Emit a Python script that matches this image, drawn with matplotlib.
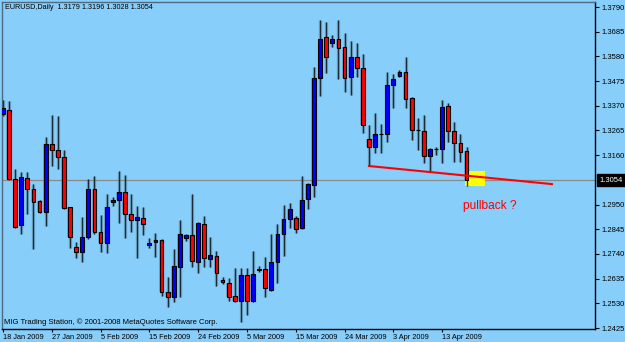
import matplotlib
matplotlib.use('Agg')
import matplotlib.pyplot as plt
from matplotlib.patches import Rectangle

# daily EURUSD candles, 18 Jan 2009 .. 17 Apr 2009 (Sunday bars included)
opens = [1.3335, 1.3352, 1.3059, 1.2863, 1.3063, 1.3016, 1.2965, 1.2918, 1.3208, 1.3182,
         1.3152, 1.2940, 1.2770, 1.2748, 1.2812, 1.3016, 1.2833, 1.2787, 1.2961, 1.2969,
         1.3003, 1.2910, 1.2884, 1.2893, 1.2778, 1.2791, 1.2799, 1.2578, 1.2557, 1.2685,
         1.2808, 1.2821, 1.2706, 1.2867, 1.2719, 1.2731, 1.2629, 1.2617, 1.2561, 1.2540,
         1.2651, 1.2540, 1.2672, 1.2676, 1.2587, 1.2706, 1.2825, 1.2889, 1.2893, 1.2850,
         1.2974, 1.3033, 1.3488, 1.3662, 1.3637, 1.3654, 1.3620, 1.3492, 1.3577, 1.3531,
         1.3229, 1.3195, 1.3250, 1.3250, 1.3458, 1.3497, 1.3514, 1.3403, 1.3267, 1.3263,
         1.3157, 1.3186, 1.3186, 1.3369, 1.3263, 1.3212, 1.3179]
highs = [1.3395, 1.3390, 1.3101, 1.3089, 1.3089, 1.3037, 1.2969, 1.3237, 1.3331, 1.3327,
         1.3182, 1.2940, 1.2791, 1.2897, 1.3059, 1.3072, 1.2906, 1.2995, 1.2982, 1.3093,
         1.3076, 1.2995, 1.2944, 1.2940, 1.2808, 1.2829, 1.2804, 1.2642, 1.2761, 1.2884,
         1.2825, 1.2995, 1.2876, 1.2901, 1.2812, 1.2753, 1.2642, 1.2638, 1.2680, 1.2680,
         1.2680, 1.2753, 1.2689, 1.2727, 1.2825, 1.2867, 1.2948, 1.2957, 1.2901, 1.3072,
         1.3042, 1.3535, 1.3735, 1.3726, 1.3671, 1.3735, 1.3680, 1.3645, 1.3637, 1.3590,
         1.3288, 1.3339, 1.3293, 1.3514, 1.3505, 1.3522, 1.3577, 1.3407, 1.3318, 1.3331,
         1.3191, 1.3195, 1.3395, 1.3382, 1.3301, 1.3250, 1.3196]
lows = [1.3327, 1.3054, 1.2850, 1.2825, 1.2910, 1.2761, 1.2914, 1.2859, 1.3114, 1.3101,
        1.2931, 1.2765, 1.2723, 1.2706, 1.2804, 1.2825, 1.2748, 1.2744, 1.2944, 1.2872,
        1.2808, 1.2833, 1.2723, 1.2821, 1.2765, 1.2727, 1.2561, 1.2514, 1.2536, 1.2557,
        1.2795, 1.2685, 1.2659, 1.2685, 1.2685, 1.2604, 1.2612, 1.2540, 1.2536, 1.2451,
        1.2480, 1.2536, 1.2663, 1.2557, 1.2583, 1.2617, 1.2731, 1.2850, 1.2829, 1.2846,
        1.2931, 1.2982, 1.3412, 1.3509, 1.3620, 1.3484, 1.3429, 1.3416, 1.3492, 1.3254,
        1.3114, 1.3169, 1.3169, 1.3216, 1.3361, 1.3492, 1.3361, 1.3225, 1.3182, 1.3127,
        1.3089, 1.3161, 1.3127, 1.3216, 1.3131, 1.3131, 1.3028]
closes = [1.3361, 1.3059, 1.2855, 1.3067, 1.3016, 1.2961, 1.2918, 1.3208, 1.3182, 1.3152,
          1.2935, 1.2812, 1.2748, 1.2812, 1.3016, 1.2833, 1.2787, 1.2940, 1.2969, 1.3003,
          1.2910, 1.2884, 1.2897, 1.2867, 1.2787, 1.2799, 1.2578, 1.2557, 1.2689, 1.2825,
          1.2821, 1.2710, 1.2872, 1.2723, 1.2736, 1.2659, 1.2621, 1.2557, 1.2540, 1.2651,
          1.2540, 1.2655, 1.2676, 1.2595, 1.2706, 1.2825, 1.2889, 1.2931, 1.2846, 1.2969,
          1.3037, 1.3488, 1.3654, 1.3577, 1.3654, 1.3616, 1.3488, 1.3577, 1.3531, 1.3288,
          1.3195, 1.3250, 1.3248, 1.3458, 1.3484, 1.3514, 1.3399, 1.3267, 1.3265, 1.3157,
          1.3186, 1.3188, 1.3365, 1.3263, 1.3212, 1.3174, 1.3054]

date_labels = ['18 Jan 2009', '27 Jan 2009', '5 Feb 2009', '15 Feb 2009', '24 Feb 2009',
               '5 Mar 2009', '15 Mar 2009', '24 Mar 2009', '3 Apr 2009', '13 Apr 2009']
date_positions = [0, 8, 16, 24, 32, 40, 48, 56, 64, 72]
price_ticks = [1.3790, 1.3685, 1.3580, 1.3475, 1.3370, 1.3265, 1.3160,
               1.2950, 1.2845, 1.2740, 1.2635, 1.2530, 1.2425]
last_price = 1.3054

# hand-drawn trendline and marker box
trend_x = [60, 90]
trend_y = [1.3114, 1.3037]
box_x = [75.7, 79.0]
box_y = [1.3029, 1.3093]

bg = '#87CEFA'
plt.rcParams['font.family'] = ['Liberation Sans', 'DejaVu Sans']

fig = plt.figure(figsize=(6.25, 3.42), dpi=100, facecolor=bg)
ax = fig.add_axes([2 / 625, 13 / 342, 593 / 625, 327 / 342], facecolor=bg)

ax.set_xlim(-0.16, 97.05)
ax.set_ylim(1.24210, 1.38113)

x = list(range(len(opens)))
up = [c >= o for o, c in zip(opens, closes)]
colors = ['#0000FF' if u else '#FF0000' for u in up]
bottoms = [min(o, c) for o, c in zip(opens, closes)]
heights = [abs(c - o) for o, c in zip(opens, closes)]

# soft shadow like the terminal draws
ax.vlines(x, lows, highs, color='#3d5a6c', linewidth=2.4, alpha=0.35, zorder=2)
ax.bar(x, heights, bottom=bottoms, width=0.85, color='#3d5a6c', alpha=0.3,
       linewidth=0, zorder=2)

ax.axhline(last_price, color='#8a8a8a', linewidth=0.9, zorder=1)

ax.add_patch(Rectangle((box_x[0], box_y[0]), box_x[1] - box_x[0], box_y[1] - box_y[0],
                       facecolor='#FFFF00', edgecolor='none', zorder=2.5))

ax.vlines(x, lows, highs, color='#1e2a33', linewidth=0.9, zorder=3)
ax.bar(x, heights, bottom=bottoms, width=0.62, color=colors, edgecolor='black',
       linewidth=0.8, zorder=4)

ax.plot(trend_x, trend_y, color='#FF0000', linewidth=1.5, zorder=5)
ax.text(75.4, 1.2944, 'pullback ?', color='#FF0000', fontsize=8.6,
        ha='left', va='center', zorder=6)

# axes frame
for side in ['top', 'left']:
    ax.spines[side].set_color('#4d6a80')
    ax.spines[side].set_linewidth(1)
for side in ['right', 'bottom']:
    ax.spines[side].set_color('black')
    ax.spines[side].set_linewidth(1)

ax.yaxis.tick_right()
ax.set_yticks(price_ticks)
ax.set_yticklabels(['%.4f' % p for p in price_ticks])
ax.tick_params(axis='y', direction='out', length=3, width=0.8, pad=1.5,
               labelsize=5.5, colors='black')

ax.set_xticks(date_positions)
ax.set_xticklabels(date_labels, ha='left')
ax.tick_params(axis='x', direction='out', length=2, width=0.8, pad=1.5,
               labelsize=5.3, colors='black')

ax.text(1.0 + 4 / 593, last_price, '%.4f' % last_price, transform=ax.get_yaxis_transform(),
        color='white', fontsize=5.5, ha='left', va='center',
        bbox=dict(boxstyle='square,pad=0.3', facecolor='black', edgecolor='black'),
        clip_on=False, zorder=7)

fig.text(5 / 625, 1 - 7.5 / 342, 'EURUSD,Daily  1.3179 1.3196 1.3028 1.3054',
         fontsize=5.2, ha='left', va='center', color='black')
fig.text(4 / 625, 1 - 322.5 / 342,
         'MIG Trading Station, \u00a9 2001-2008 MetaQuotes Software Corp.',
         fontsize=5.5, ha='left', va='center', color='black')

fig.savefig('out.png', dpi=100, facecolor=bg)
